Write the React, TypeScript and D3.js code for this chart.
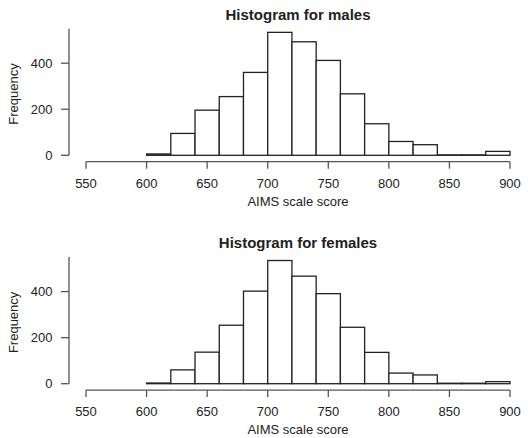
import * as d3 from 'd3';
import React from 'react';

// histogram bins (AIMS scale score), 20 points wide
const binEdges = [600, 620, 640, 660, 680, 700, 720, 740, 760, 780, 800, 820, 840, 860, 880, 900];
const malesCounts = [6, 95, 196, 255, 360, 534, 493, 412, 267, 137, 60, 46, 2, 2, 17];
const femalesCounts = [3, 60, 137, 254, 402, 535, 467, 391, 245, 136, 46, 38, 2, 2, 9];

const xTicks = [550, 600, 650, 700, 750, 800, 850, 900];
const yTicks = [0, 200, 400];

const W = 528;
const H = 438;
const font = 'Liberation Sans, Arial, Helvetica, sans-serif';
const ink = '#222';
const axisInk = '#555';

function Panel(props: { title: string; counts: number[]; top: number }) {
  const { title, counts, top } = props;

  const x = d3.scaleLinear().domain([550, 900]).range([86, 510]);
  const y = d3.scaleLinear().domain([0, 400]).range([top + 155.3, top + 63.2]);

  const axisY = top + 161.7;
  const axisX = 69;

  const bins = counts.map((c, i) => ({ x0: binEdges[i], x1: binEdges[i + 1], n: c }));

  return (
    <g>
      <text x={298} y={top + 20} textAnchor="middle" fontFamily={font} fontWeight="bold" fontSize={15} fill={ink}>
        {title}
      </text>

      {bins.map((b, i) => (
        <rect
          key={i}
          x={x(b.x0)}
          y={y(b.n)}
          width={x(b.x1) - x(b.x0)}
          height={y(0) - y(b.n)}
          fill="white"
          stroke={ink}
          strokeWidth={1.3}
        />
      ))}

      {/* x axis */}
      <line x1={x(550)} x2={x(900)} y1={axisY} y2={axisY} stroke={axisInk} strokeWidth={1.3} />
      {xTicks.map((t) => (
        <g key={t}>
          <line x1={x(t)} x2={x(t)} y1={axisY} y2={axisY + 7} stroke={axisInk} strokeWidth={1.3} />
          <text x={x(t)} y={axisY + 26} textAnchor="middle" fontFamily={font} fontSize={13} fill={ink}>
            {t}
          </text>
        </g>
      ))}
      <text x={298} y={top + 206} textAnchor="middle" fontFamily={font} fontSize={13} fill={ink}>
        AIMS scale score
      </text>

      {/* y axis */}
      <line x1={axisX} x2={axisX} y1={y(0)} y2={y(550)} stroke={axisInk} strokeWidth={1.3} />
      {yTicks.map((t) => (
        <g key={t}>
          <line x1={axisX - 8} x2={axisX} y1={y(t)} y2={y(t)} stroke={axisInk} strokeWidth={1.3} />
          <text x={52.5} y={y(t) + 4.5} textAnchor="end" fontFamily={font} fontSize={13} fill={ink}>
            {t}
          </text>
        </g>
      ))}
      <text
        transform={`translate(18,${top + 94}) rotate(-90)`}
        textAnchor="middle"
        fontFamily={font}
        fontSize={13}
        fill={ink}
      >
        Frequency
      </text>
    </g>
  );
}

export default function App() {
  return (
    <svg width={W} height={H} style={{ position: 'absolute', left: 0, top: 0, background: 'white' }}>
      <Panel title="Histogram for males" counts={malesCounts} top={0} />
      <Panel title="Histogram for females" counts={femalesCounts} top={228.4} />
    </svg>
  );
}
